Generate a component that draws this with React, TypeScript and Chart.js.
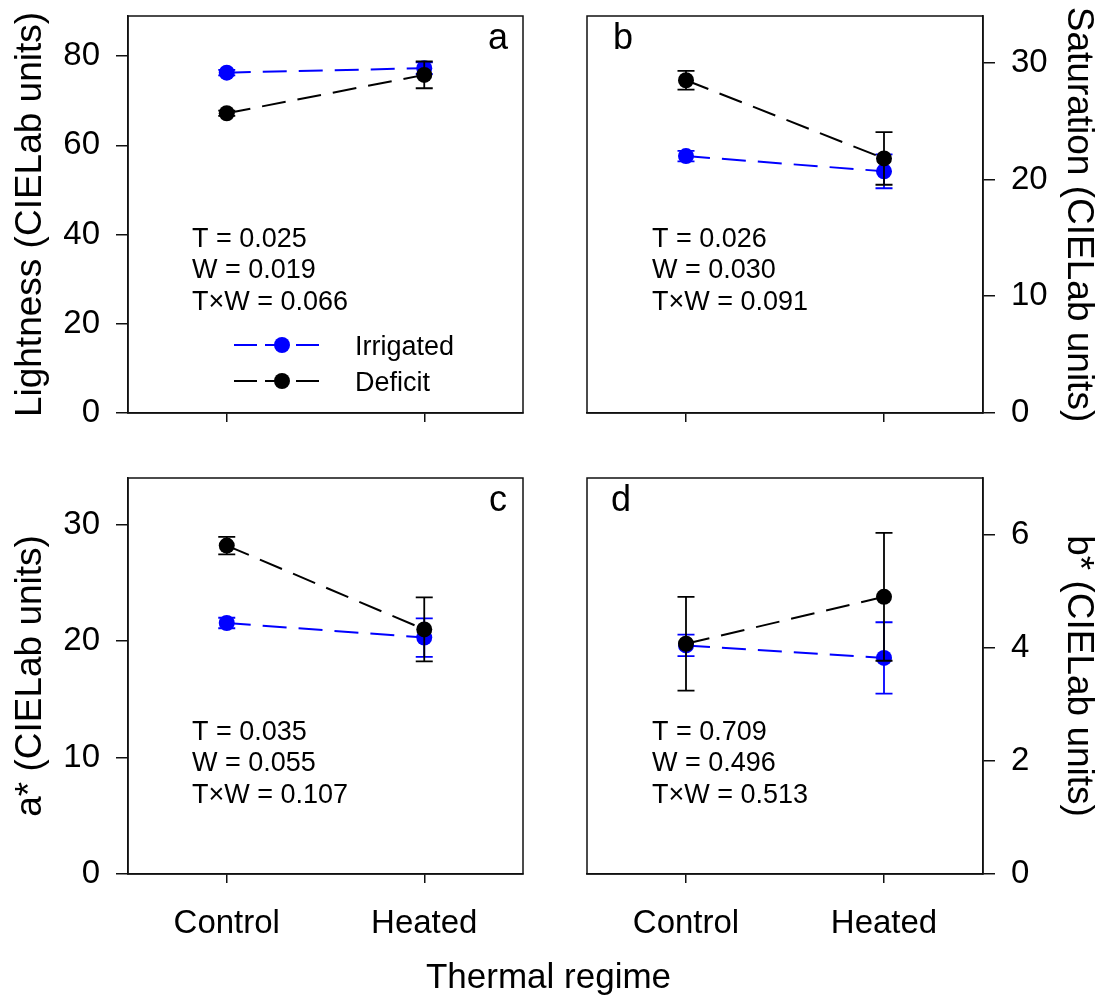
import React, { useEffect, useRef } from 'react';
import { Chart, registerables } from 'chart.js';

Chart.register(...registerables);

const FONT = "'Liberation Sans', Arial, Helvetica, sans-serif";
Chart.defaults.font.family = FONT;
Chart.defaults.color = '#000';

// ---------- data ----------
const CATEGORIES = ['Control', 'Heated'];
const SERIES_NAMES = ['Irrigated', 'Deficit'];
const X_TITLE = 'Thermal regime';

// a: Lightness
const LIGHT_IRR = [76.3, 77.3];
const LIGHT_IRR_SE = [0.6, 1.3];
const LIGHT_DEF = [67.2, 75.8];
const LIGHT_DEF_SE = [0.6, 3.0];
const LIGHT_TICKS = [0, 20, 40, 60, 80];
const LIGHT_MAX = 89;
const LIGHT_STATS = ['T = 0.025', 'W = 0.019', 'T×W = 0.066'];

// b: Saturation
const SAT_IRR = [22.0, 20.7];
const SAT_IRR_SE = [0.45, 1.45];
const SAT_DEF = [28.5, 21.8];
const SAT_DEF_SE = [0.8, 2.25];
const SAT_TICKS = [0, 10, 20, 30];
const SAT_MAX = 34;
const SAT_STATS = ['T = 0.026', 'W = 0.030', 'T×W = 0.091'];

// c: a*
const A_IRR = [21.55, 20.3];
const A_IRR_SE = [0.45, 1.65];
const A_DEF = [28.2, 21.0];
const A_DEF_SE = [0.75, 2.75];
const A_TICKS = [0, 10, 20, 30];
const A_MAX = 34;
const A_STATS = ['T = 0.035', 'W = 0.055', 'T×W = 0.107'];

// d: b*
const B_IRR = [4.04, 3.82];
const B_IRR_SE = [0.19, 0.63];
const B_DEF = [4.07, 4.9];
const B_DEF_SE = [0.83, 1.13];
const B_TICKS = [0, 2, 4, 6];
const B_MAX = 7;
const B_STATS = ['T = 0.709', 'W = 0.496', 'T×W = 0.513'];

// ---------- styles ----------
const BLUE = '#0000ff';
const BLACK = '#000000';
const AXIS = '#111111';

const errorBarsPlugin = {
  id: 'errorBars',
  beforeDatasetDraw(chart: any, args: any) {
    const ds = chart.data.datasets[args.index];
    if (!ds.errors) return;
    const yScale = chart.scales.y;
    const ctx = chart.ctx;
    ctx.save();
    ctx.strokeStyle = ds.borderColor;
    ctx.lineWidth = 1.8;
    ctx.setLineDash([]);
    args.meta.data.forEach((pt: any, i: number) => {
      const v = ds.data[i];
      const e = ds.errors[i];
      const x = pt.x;
      const y1 = yScale.getPixelForValue(v + e);
      const y2 = yScale.getPixelForValue(v - e);
      ctx.beginPath();
      ctx.moveTo(x, y1);
      ctx.lineTo(x, y2);
      ctx.moveTo(x - 8.5, y1);
      ctx.lineTo(x + 8.5, y1);
      ctx.moveTo(x - 8.5, y2);
      ctx.lineTo(x + 8.5, y2);
      ctx.stroke();
    });
    ctx.restore();
  },
};

const panelDecorPlugin = {
  id: 'panelDecor',
  afterDraw(chart: any) {
    const o = chart.options.plugins.panelDecor;
    if (!o) return;
    const ctx = chart.ctx;
    const a = chart.chartArea;
    ctx.save();
    // frame
    ctx.strokeStyle = AXIS;
    ctx.lineWidth = 1.5;
    ctx.setLineDash([]);
    ctx.strokeRect(a.left, a.top, a.right - a.left, a.bottom - a.top);
    // letter
    ctx.fillStyle = '#000';
    ctx.font = `36px ${FONT}`;
    ctx.textAlign = 'center';
    ctx.textBaseline = 'alphabetic';
    ctx.fillText(o.letter, o.letterX, o.letterY);
    // stats
    ctx.font = `27px ${FONT}`;
    ctx.textAlign = 'left';
    o.stats.forEach((s: string, i: number) => {
      ctx.fillText(s, o.statsX, o.statsY + i * 31.5);
    });
    // legend
    if (o.legend) {
      o.legend.forEach((item: any) => {
        ctx.strokeStyle = item.color;
        ctx.lineWidth = 2;
        ctx.setLineDash([23, 8]);
        ctx.beginPath();
        ctx.moveTo(o.legendX0, item.y);
        ctx.lineTo(o.legendX1, item.y);
        ctx.stroke();
        ctx.setLineDash([]);
        ctx.fillStyle = item.color;
        ctx.beginPath();
        ctx.arc(o.legendDotX, item.y, 8, 0, Math.PI * 2);
        ctx.fill();
        ctx.fillStyle = '#000';
        ctx.font = `27px ${FONT}`;
        ctx.textAlign = 'left';
        ctx.fillText(item.label, o.legendTextX, item.y + 10);
      });
    }
    ctx.restore();
  },
};

function Panel(props: any) {
  const ref = useRef<HTMLCanvasElement>(null);
  const p = props.p;
  useEffect(() => {
    const mkDs = (label: string, data: number[], errors: number[], color: string) => ({
      label,
      data,
      errors,
      borderColor: color,
      backgroundColor: color,
      pointBackgroundColor: color,
      pointBorderColor: color,
      pointBorderWidth: 0,
      pointRadius: 8,
      borderWidth: 2,
      borderDash: [24, 12],
      tension: 0,
      fill: false,
    });
    const chart = new Chart(ref.current!, {
      type: 'line',
      data: {
        labels: CATEGORIES,
        datasets: [
          mkDs(SERIES_NAMES[1], p.def, p.defSe, BLACK),
          mkDs(SERIES_NAMES[0], p.irr, p.irrSe, BLUE),
        ] as any,
      },
      options: {
        animation: false,
        responsive: false,
        layout: { padding: p.padding },
        plugins: {
          legend: { display: false },
          tooltip: { enabled: false },
          panelDecor: p.decor,
        } as any,
        scales: {
          x: {
            type: 'category',
            offset: true,
            grid: {
              display: true,
              offset: false,
              drawOnChartArea: false,
              drawTicks: true,
              tickLength: 9,
              color: AXIS,
              lineWidth: 1.5,
            },
            border: { display: true, color: AXIS, width: 1.5 },
            ticks: {
              display: p.showX,
              font: { size: 33 },
              color: '#000',
              padding: 21,
              maxRotation: 0,
            },
            afterFit: (s: any) => {
              s.height = p.xHeight;
              s.paddingLeft = 0;
              s.paddingRight = 0;
            },
          },
          y: {
            type: 'linear',
            position: p.yPos,
            min: 0,
            max: p.max,
            afterBuildTicks: (s: any) => {
              s.ticks = p.ticks.map((v: number) => ({ value: v }));
            },
            grid: {
              display: true,
              drawOnChartArea: false,
              drawTicks: true,
              tickLength: 12,
              color: AXIS,
              lineWidth: 1.5,
            },
            border: { display: true, color: AXIS, width: 1.5 },
            ticks: {
              font: { size: 33 },
              color: '#000',
              padding: 16,
            },
            title: {
              display: true,
              text: p.yTitle,
              font: { size: 37 },
              color: '#000',
              padding: p.titlePad,
            },
            afterFit: (s: any) => {
              s.width = p.yWidth;
              s.paddingTop = 0;
              s.paddingBottom = 0;
            },
          },
        },
      } as any,
      plugins: [errorBarsPlugin, panelDecorPlugin],
    });
    return () => chart.destroy();
  }, []);
  return (
    <canvas
      ref={ref}
      width={p.w}
      height={p.h}
      style={{ position: 'absolute', left: p.left, top: p.top, width: p.w, height: p.h, display: 'block' }}
    />
  );
}

const PANELS = [
  {
    left: 0, top: 0, w: 550, h: 460,
    padding: { top: 16, right: 27, left: 0, bottom: 0 },
    yWidth: 128, xHeight: 47, yPos: 'left', titlePad: 9, showX: false,
    irr: LIGHT_IRR, irrSe: LIGHT_IRR_SE, def: LIGHT_DEF, defSe: LIGHT_DEF_SE,
    ticks: LIGHT_TICKS, max: LIGHT_MAX, yTitle: 'Lightness (CIELab units)',
    decor: {
      letter: 'a', letterX: 498, letterY: 49,
      stats: LIGHT_STATS, statsX: 192, statsY: 246.5,
      legend: [
        { label: SERIES_NAMES[0], color: BLUE, y: 345 },
        { label: SERIES_NAMES[1], color: BLACK, y: 381 },
      ],
      legendX0: 234, legendX1: 323, legendDotX: 282, legendTextX: 355,
    },
  },
  {
    left: 550, top: 0, w: 551, h: 460,
    padding: { top: 16, right: 0, left: 37, bottom: 0 },
    yWidth: 118, xHeight: 47, yPos: 'right', titlePad: 1, showX: false,
    irr: SAT_IRR, irrSe: SAT_IRR_SE, def: SAT_DEF, defSe: SAT_DEF_SE,
    ticks: SAT_TICKS, max: SAT_MAX, yTitle: 'Saturation (CIELab units)',
    decor: {
      letter: 'b', letterX: 73, letterY: 49,
      stats: SAT_STATS, statsX: 102, statsY: 246.5,
    },
  },
  {
    left: 0, top: 460, w: 550, h: 545,
    padding: { top: 18, right: 27, left: 0, bottom: 0 },
    yWidth: 128, xHeight: 131, yPos: 'left', titlePad: 9, showX: true,
    irr: A_IRR, irrSe: A_IRR_SE, def: A_DEF, defSe: A_DEF_SE,
    ticks: A_TICKS, max: A_MAX, yTitle: 'a* (CIELab units)',
    decor: {
      letter: 'c', letterX: 498, letterY: 51,
      stats: A_STATS, statsX: 192, statsY: 279.5,
    },
  },
  {
    left: 550, top: 460, w: 551, h: 545,
    padding: { top: 18, right: 0, left: 37, bottom: 0 },
    yWidth: 118, xHeight: 131, yPos: 'right', titlePad: 1, showX: true,
    irr: B_IRR, irrSe: B_IRR_SE, def: B_DEF, defSe: B_DEF_SE,
    ticks: B_TICKS, max: B_MAX, yTitle: 'b* (CIELab units)',
    decor: {
      letter: 'd', letterX: 71, letterY: 51,
      stats: B_STATS, statsX: 102, statsY: 279.5,
    },
  },
];

export default function App() {
  return (
    <div style={{ position: 'absolute', left: 0, top: 0, width: 1101, height: 1005, background: '#fff', overflow: 'hidden' }}>
      {PANELS.map((p, i) => (
        <Panel key={i} p={p} />
      ))}
      <div
        style={{
          position: 'absolute',
          left: 548.5,
          top: 958,
          transform: 'translateX(-50%)',
          fontFamily: FONT,
          fontSize: 35,
          lineHeight: '35px',
          whiteSpace: 'nowrap',
          color: '#000',
        }}
      >
        {X_TITLE}
      </div>
    </div>
  );
}
